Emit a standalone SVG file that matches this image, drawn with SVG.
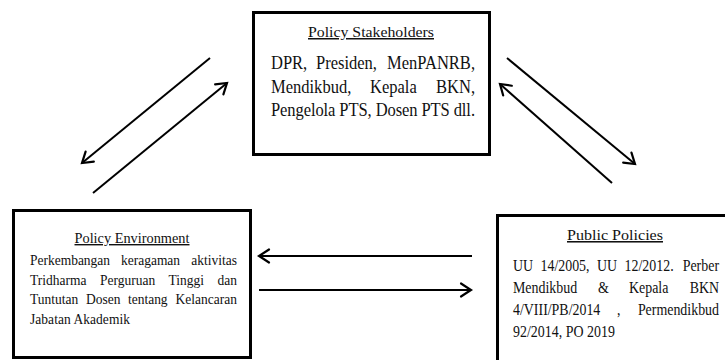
<svg xmlns="http://www.w3.org/2000/svg" width="725" height="360" viewBox="0 0 725 360">
<style>
.box{fill:#fff;stroke:#000;stroke-width:3}
text{font-family:"Liberation Serif","Times New Roman",serif;fill:#111}
.title{text-decoration:underline}
.e{text-anchor:end}
.s1{font-size:19px}
.s2{font-size:15.5px}
.s3{font-size:16px}
.arr{stroke:#000;stroke-width:2;fill:none}
</style>
<defs>
<marker id="ah" markerUnits="userSpaceOnUse" markerWidth="18" markerHeight="18" refX="13" refY="9" orient="auto">
<path d="M3,2.5 L13,9 L3,15.5" fill="none" stroke="#000" stroke-width="2.2" stroke-linecap="round"/>
</marker>
</defs>
<rect width="725" height="360" fill="#fff"/>
<g id="policy-stakeholders">
<rect class="box" x="253.5" y="12.5" width="236" height="142"/>
<text class="title" x="371" y="37" font-size="15" text-anchor="middle" textLength="126" lengthAdjust="spacingAndGlyphs">Policy Stakeholders</text>
<g transform="matrix(0.87 0 0 1 35.23 0)">
<text class="s1" x="271" y="69">DPR,</text>
<text class="s1" x="322.7" y="69">Presiden,</text>
<text class="s1 e" x="505.5" y="69">MenPANRB,</text>
<text class="s1" x="271" y="93">Mendikbud,</text>
<text class="s1" x="384.8" y="93">Kepala</text>
<text class="s1 e" x="505.5" y="93">BKN,</text>
<text class="s1" x="271" y="116" textLength="234.5" lengthAdjust="spacing">Pengelola PTS, Dosen PTS dll.</text>
</g>
</g>
<g id="policy-environment">
<rect class="box" x="13.5" y="210.5" width="237" height="147"/>
<text class="title" x="132" y="243" font-size="14" text-anchor="middle" textLength="115" lengthAdjust="spacingAndGlyphs">Policy Environment</text>
<g transform="matrix(0.87 0 0 1 3.9 0)">
<text class="s2" x="30" y="265">Perkembangan</text>
<text class="s2" x="134.6" y="265">keragaman</text>
<text class="s2 e" x="267.9" y="265">aktivitas</text>
<text class="s2" x="30" y="285">Tridharma</text>
<text class="s2" x="110.5" y="285">Perguruan</text>
<text class="s2" x="189.2" y="285">Tinggi</text>
<text class="s2 e" x="267.9" y="285">dan</text>
<text class="s2" x="30" y="304">Tuntutan</text>
<text class="s2" x="94.4" y="304">Dosen</text>
<text class="s2" x="142.6" y="304">tentang</text>
<text class="s2 e" x="267.9" y="304">Kelancaran</text>
<text class="s2" x="30" y="324" textLength="114.9" lengthAdjust="spacing">Jabatan Akademik</text>
</g>
</g>
<g id="public-policies">
<rect class="box" x="497.5" y="215.5" width="240" height="160"/>
<text class="title" x="615" y="240" font-size="15.5" text-anchor="middle" textLength="96" lengthAdjust="spacingAndGlyphs">Public Policies</text>
<g transform="matrix(0.87 0 0 1 66.69 0)">
<text class="s3" x="513" y="271">UU</text>
<text class="s3" x="544.6" y="271">14/2005,</text>
<text class="s3" x="609.6" y="271">UU</text>
<text class="s3" x="641.2" y="271">12/2012.</text>
<text class="s3 e" x="749.8" y="271">Perber</text>
<text class="s3" x="513" y="293">Mendikbud</text>
<text class="s3" x="610.7" y="293">&amp;</text>
<text class="s3" x="646.3" y="293">Kepala</text>
<text class="s3 e" x="749.8" y="293">BKN</text>
<text class="s3" x="513" y="315">4/VIII/PB/2014</text>
<text class="s3" x="632.5" y="315">,</text>
<text class="s3 e" x="749.8" y="315">Permendikbud</text>
<text class="s3" x="513" y="337" textLength="117.2" lengthAdjust="spacing">92/2014, PO 2019</text>
</g>
</g>
<g id="connectors">
<line class="arr" x1="210" y1="58" x2="82" y2="163" marker-end="url(#ah)"/>
<line class="arr" x1="93" y1="193" x2="227" y2="83" marker-end="url(#ah)"/>
<line class="arr" x1="507" y1="58" x2="635" y2="164" marker-end="url(#ah)"/>
<line class="arr" x1="612" y1="183" x2="500" y2="84" marker-end="url(#ah)"/>
<line class="arr" x1="472" y1="256" x2="259" y2="256" marker-end="url(#ah)"/>
<line class="arr" x1="259" y1="290" x2="471" y2="290" marker-end="url(#ah)"/>
</g>
</svg>
